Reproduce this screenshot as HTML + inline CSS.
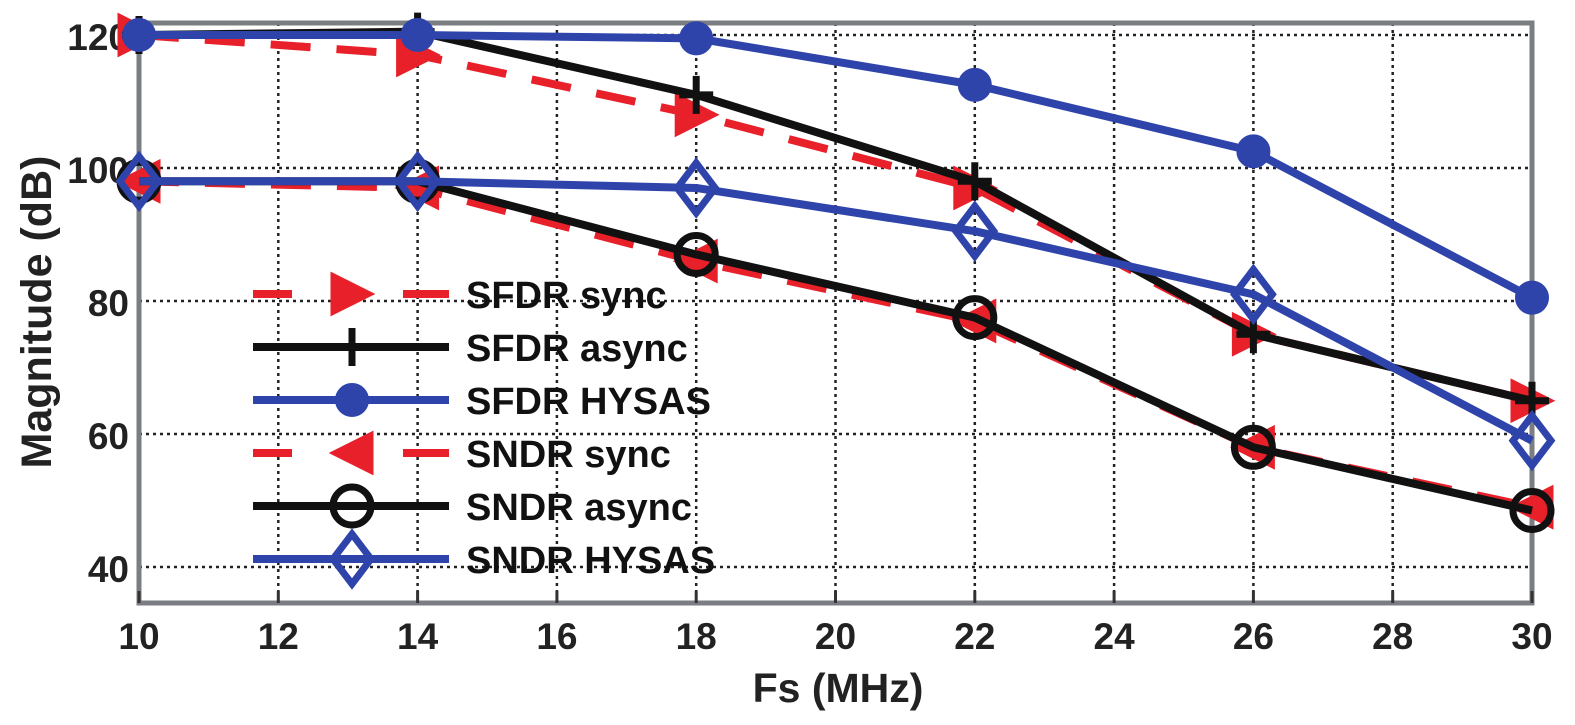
<!DOCTYPE html>
<html><head><meta charset="utf-8"><style>
html,body{margin:0;padding:0;background:#fff;}
svg{display:block;font-family:"Liberation Sans",Arial,sans-serif;font-weight:bold;}
</style></head><body>
<svg id="chart" width="1575" height="725" viewBox="0 0 1575 725" xmlns="http://www.w3.org/2000/svg"></svg>
<script>
const xCats = [10, 14, 18, 22, 26, 30];
const sfdrSync = [120, 117, 108, 97, 75, 65];
const sfdrAsync = [120, 120.5, 111, 98, 75, 65];
const sfdrHysas = [120, 120, 119.5, 112.5, 102.5, 80.5];
const sndrSync = [98, 97, 86, 77, 58, 49];
const sndrAsync = [98, 98, 87, 77.5, 58, 48.5];
const sndrHysas = [98, 98, 97, 90.5, 81, 59];
const xTicks = [10, 12, 14, 16, 18, 20, 22, 24, 26, 28, 30];
const yTicks = [40, 60, 80, 100, 120];
const legendLabels = ["SFDR sync", "SFDR async", "SFDR HYSAS", "SNDR sync", "SNDR async", "SNDR HYSAS"];

const NS = "http://www.w3.org/2000/svg";
const svg = document.getElementById('chart');
const L = 139, R = 1532, T = 23, B = 603;
function X(v){ return L + (v - 10) * (R - L) / 20; }
function Y(v){ return 168 - (v - 100) * 6.65; }
function el(tag, attrs, parent){
  const e = document.createElementNS(NS, tag);
  for (const k in attrs) e.setAttribute(k, attrs[k]);
  (parent || svg).appendChild(e);
  return e;
}
const RED = "#e8202a", BLUE = "#2f44aa", BLK = "#111";

const grid = el('g', {});


xTicks.forEach(t => {
  if (t > 10 && t < 30) el('line', {x1:X(t), x2:X(t), y1:T, y2:B, stroke:"#222", 'stroke-width':2.5, 'stroke-dasharray':"3 4"}, grid);
});
yTicks.forEach(t => {
  el('line', {x1:L, x2:R, y1:Y(t), y2:Y(t), stroke:"#222", 'stroke-width':2.5, 'stroke-dasharray':"3 4"}, grid);
});
const box = el('rect', {x:L, y:T, width:R-L, height:B-T, fill:"none", stroke:"#7a7d82", 'stroke-width':5});



xTicks.forEach(t => {
  const tx = el('text', {x:X(t), y:649, 'font-size':37, 'text-anchor':"middle", fill:"#222"});
  tx.textContent = t;
  
  
  el('line', {x1:X(t), x2:X(t), y1:B, y2:B-12, stroke:"#333", 'stroke-width':3});
});
yTicks.forEach(t => {
  const ty = el('text', {x:129, y:Y(t)+15, 'font-size':37, 'text-anchor':"end", fill:"#222"});
  ty.textContent = t;
  
  
});
const xt = el('text', {x:838, y:702, 'font-size':41, 'text-anchor':"middle", fill:"#222"});
xt.textContent = "Fs (MHz)";


const yt = el('text', {x:0, y:0, 'font-size':43, 'text-anchor':"middle", fill:"#222", transform:"translate(51,312) rotate(-90)"});
yt.textContent = "Magnitude (dB)";



function marker(kind, cx, cy, color, g){
  const s = 20;
  if (kind === 'tri-r') el('polygon', {points:`${cx-s},${cy-s} ${cx+s},${cy} ${cx-s},${cy+s}`, fill:color, stroke:color, 'stroke-width':3}, g);
  else if (kind === 'tri-l') el('polygon', {points:`${cx+s},${cy-s} ${cx-s},${cy} ${cx+s},${cy+s}`, fill:color, stroke:color, 'stroke-width':3}, g);
  else if (kind === 'plus') { el('line', {x1:cx-17, x2:cx+17, y1:cy, y2:cy, stroke:color, 'stroke-width':7}, g); el('line', {x1:cx, x2:cx, y1:cy-19, y2:cy+19, stroke:color, 'stroke-width':7}, g); }
  else if (kind === 'star') el('circle', {cx:cx, cy:cy, r:16, fill:color, stroke:color, 'stroke-width':2}, g);
  else if (kind === 'circle') el('circle', {cx:cx, cy:cy, r:19, fill:"none", stroke:color, 'stroke-width':7}, g);
  else if (kind === 'diamond') el('polygon', {points:`${cx},${cy-25} ${cx+19},${cy} ${cx},${cy+25} ${cx-19},${cy}`, fill:"none", stroke:color, 'stroke-width':7}, g);
}
const series = [
  {name:'sfdr-sync', data:sfdrSync, color:RED, dash:"40 26", m:'tri-r'},
  {name:'sndr-sync', data:sndrSync, color:RED, dash:"40 26", m:'tri-l'},
  {name:'sfdr-async', data:sfdrAsync, color:BLK, dash:null, m:'plus'},
  {name:'sndr-async', data:sndrAsync, color:BLK, dash:null, m:'circle'},
  {name:'sfdr-hysas', data:sfdrHysas, color:BLUE, dash:null, m:'star'},
  {name:'sndr-hysas', data:sndrHysas, color:BLUE, dash:null, m:'diamond'}
];
series.forEach(s => {
  const g = el('g', {});
  
  
  const pts = s.data.map((v,i) => X(xCats[i]) + ',' + Y(v)).join(' ');
  const a = {points:pts, fill:"none", stroke:s.color, 'stroke-width':8, 'stroke-linejoin':"round"};
  if (s.dash) a['stroke-dasharray'] = s.dash;
  el('polyline', a, g);
  s.data.forEach((v,i) => marker(s.m, X(xCats[i]), Y(v), s.color, g));
});

const legOrder = [
  {color:RED, dash:true, m:'tri-r'},
  {color:BLK, dash:false, m:'plus'},
  {color:BLUE, dash:false, m:'star'},
  {color:RED, dash:true, m:'tri-l'},
  {color:BLK, dash:false, m:'circle'},
  {color:BLUE, dash:false, m:'diamond'}
];
const lg = el('g', {});


legOrder.forEach((o,i) => {
  const y = 294 + i * 53;
  const g = el('g', {}, lg);
  
  
  if (o.dash) {
    el('line', {x1:253, x2:292, y1:y, y2:y, stroke:o.color, 'stroke-width':8}, g);
    el('line', {x1:403, x2:449, y1:y, y2:y, stroke:o.color, 'stroke-width':8}, g);
  } else {
    el('line', {x1:253, x2:449, y1:y, y2:y, stroke:o.color, 'stroke-width':8}, g);
  }
  marker(o.m, 352, y, o.color, g);
  const t = el('text', {x:466, y:y+14, 'font-size':38, fill:"#111"}, g);
  t.textContent = legendLabels[i];
});
</script>
</body></html>
